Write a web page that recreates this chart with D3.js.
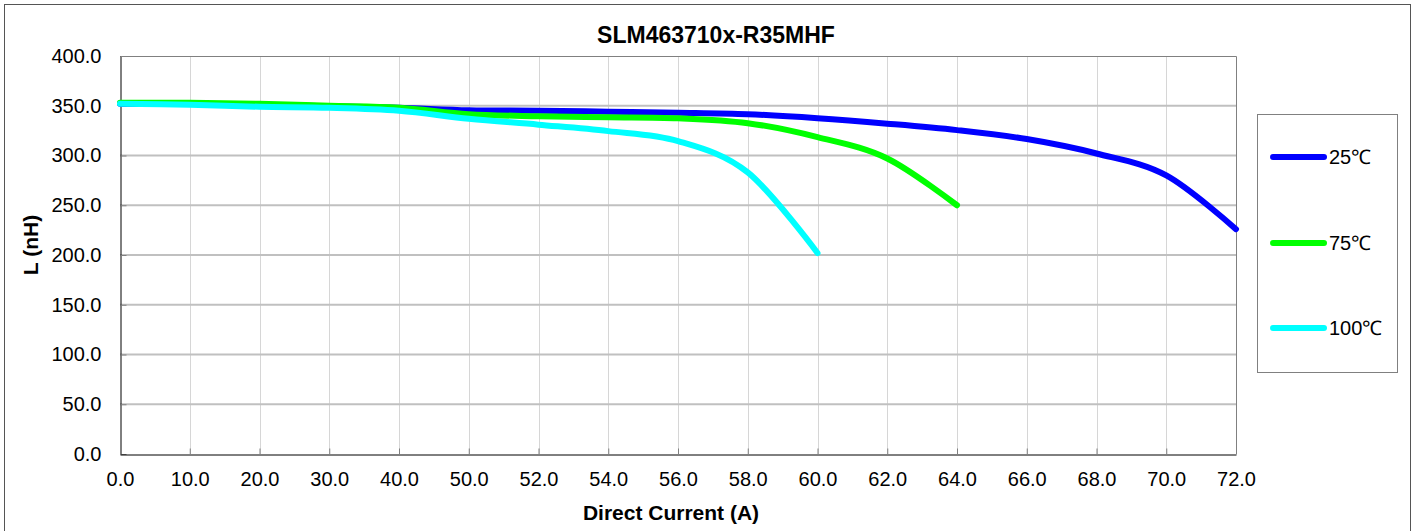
<!DOCTYPE html>
<html>
<head>
<meta charset="utf-8">
<script src="https://cdn.jsdelivr.net/npm/d3@7"></script>
<style>
    body { margin: 0; background: #ffffff; }
    text { font-family: "Liberation Sans", Arial, sans-serif; fill: #000000; }
</style>
</head>
<body>
<div id="svgChart"></div>
<script>

// chart data
let xLabels = ["0.0","10.0","20.0","30.0","40.0","50.0","52.0","54.0","56.0","58.0","60.0","62.0","64.0","66.0","68.0","70.0","72.0"];
let yTicks = [0, 50, 100, 150, 200, 250, 300, 350, 400];

let seriesNames = ["25\u2103", "75\u2103", "100\u2103"];
let seriesColors = ["#0000ff", "#00ff00", "#00ffff"];

let l25 = [352, 352, 351, 349.5, 348, 345.5, 345, 344, 343, 341.5, 337.5, 332, 325.5, 316.5, 302, 280, 226];
let l75 = [353, 353, 352, 350, 348, 341.5, 339.5, 338.5, 337.5, 332.5, 318.5, 297, 250];
let l100 = [352, 351, 349, 348, 345, 337, 331, 324.5, 314.5, 283, 202];

let allSeries = [l25, l75, l100];

//Width and height
let width = 1419,
    height = 531,
    margin = {top: 56, bottom: 77, left: 120, right: 183};

let x = d3.scalePoint()
    .domain(xLabels)
    .range([margin.left, width - margin.right]);

let y = d3.scaleLinear()
    .domain([0, 400])
    .range([height - margin.bottom, margin.top]);

let svg = d3.select("#svgChart")
    .append("svg")
    .attr("width", width)
    .attr("height", height);

// outer chart border
svg.append("rect")
    .attr("x", 4.5)
    .attr("y", 4.5)
    .attr("width", 1406)
    .attr("height", 540)
    .attr("fill", "none")
    .attr("stroke", "#555555")
    .attr("stroke-width", 1);

// title
svg.append("text")
    .attr("x", 716)
    .attr("y", 43)
    .attr("text-anchor", "middle")
    .style("font-size", "23px")
    .style("font-weight", "bold")
    .text("SLM463710x-R35MHF");

// vertical gridlines
svg.append("g")
    .selectAll("line")
    .data(xLabels.slice(1, -1)).enter()
    .append("line")
    .attr("x1", function (d) { return Math.round(x(d)) + 0.5; })
    .attr("x2", function (d) { return Math.round(x(d)) + 0.5; })
    .attr("y1", y(400))
    .attr("y2", y(0))
    .attr("stroke", "#d6d6d6")
    .attr("stroke-width", 1);

// horizontal gridlines
svg.append("g")
    .selectAll("line")
    .data(yTicks.slice(1, -1)).enter()
    .append("line")
    .attr("x1", margin.left)
    .attr("x2", width - margin.right)
    .attr("y1", function (d) { return y(d); })
    .attr("y2", function (d) { return y(d); })
    .attr("stroke", "#c0c0c0")
    .attr("stroke-width", 2);

// plot area top / right border
svg.append("path")
    .attr("d", "M" + margin.left + "," + (y(400) + 0.5) + "H" + (x("72.0") + 0.5) + "V" + y(0))
    .attr("fill", "none")
    .attr("stroke", "#808080")
    .attr("stroke-width", 1);

// y axis
let yAxis = d3.axisLeft(y)
    .tickValues(yTicks)
    .tickSizeInner(-6)
    .tickSizeOuter(0)
    .tickPadding(19)
    .tickFormat(d3.format(".1f"));

let gy = svg.append("g")
    .attr("transform", "translate(" + (margin.left + 0.5) + ",0)")
    .call(yAxis);
gy.select(".domain").attr("stroke", "#000000");
gy.selectAll(".tick line").attr("stroke", "#808080");
gy.selectAll("text").style("font-size", "20px").attr("fill", "#000000");

// x axis
let xAxis = d3.axisBottom(x)
    .tickSizeInner(-6)
    .tickSizeOuter(0)
    .tickPadding(17);

let gx = svg.append("g")
    .attr("transform", "translate(0," + (y(0) + 0.5) + ")")
    .call(xAxis);
gx.select(".domain").attr("stroke", "#000000");
gx.selectAll(".tick line").attr("stroke", "#808080");
gx.selectAll("text").style("font-size", "20px").attr("fill", "#000000");

// axis titles
svg.append("text")
    .attr("x", 671)
    .attr("y", 520)
    .attr("text-anchor", "middle")
    .style("font-size", "21px")
    .style("font-weight", "bold")
    .text("Direct Current (A)");

svg.append("text")
    .attr("transform", "translate(38,245) rotate(-90)")
    .attr("text-anchor", "middle")
    .style("font-size", "21px")
    .style("font-weight", "bold")
    .text("L (nH)");

// smoothed lines
let line = d3.line()
    .x(function (d, i) { return x(xLabels[i]); })
    .y(function (d) { return y(d); })
    .curve(d3.curveCatmullRom.alpha(0));

// series order as in the picture: 25 at the bottom, 100 on top
svg.append("g")
    .selectAll("path")
    .data(allSeries).enter()
    .append("path")
    .attr("d", line)
    .attr("fill", "none")
    .attr("stroke", function (d, i) { return seriesColors[i]; })
    .attr("stroke-width", 6)
    .attr("stroke-linecap", "round")
    .attr("stroke-linejoin", "round");

// legend
let legendBox = {x: 1257.5, y: 114.5, w: 140, h: 258};
let legendY = [157, 243, 328];

svg.append("rect")
    .attr("x", legendBox.x)
    .attr("y", legendBox.y)
    .attr("width", legendBox.w)
    .attr("height", legendBox.h)
    .attr("fill", "#ffffff")
    .attr("stroke", "#808080")
    .attr("stroke-width", 1);

let legend = svg.append("g")
    .selectAll("g")
    .data(seriesNames).enter()
    .append("g")
    .attr("transform", function (d, i) { return "translate(0," + legendY[i] + ")"; });

legend.append("line")
    .attr("x1", 1273)
    .attr("x2", 1324)
    .attr("stroke", function (d, i) { return seriesColors[i]; })
    .attr("stroke-width", 6)
    .attr("stroke-linecap", "round");

legend.append("text")
    .attr("x", 1329)
    .attr("dy", "0.35em")
    .style("font-size", "20px")
    .text(function (d) { return d; });

</script>
</body>
</html>
